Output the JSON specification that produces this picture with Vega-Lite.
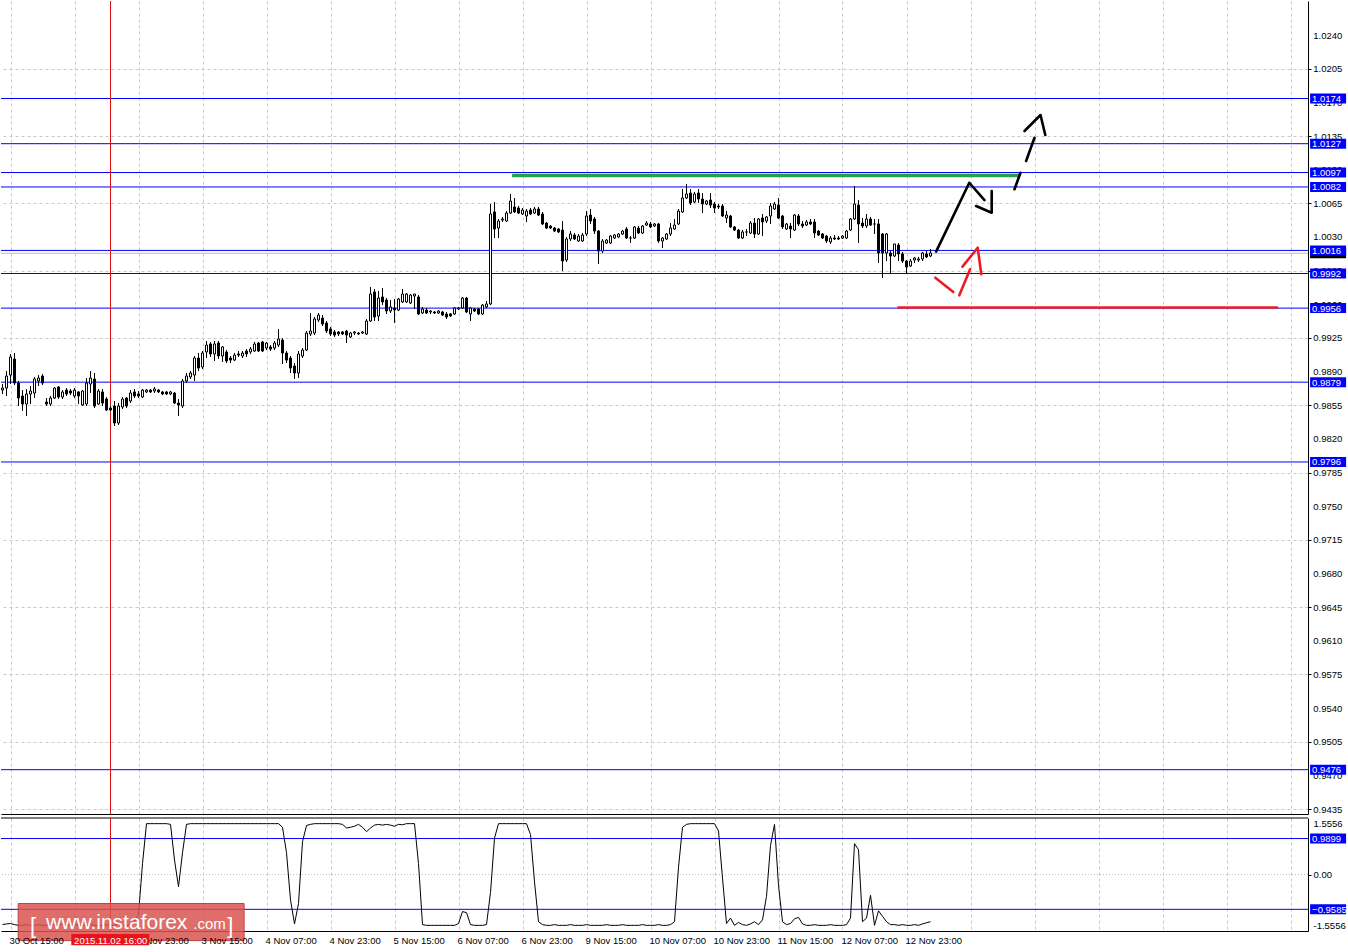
{
"$schema":"https://vega.github.io/schema/vega-lite/v6.json",
"padding":0,
"background":"#ffffff",
"spacing":2,
"config":{
 "view":{"stroke":null},
 "font":"Liberation Sans",
 "scale":{"continuousPadding":0},
 "axis":{"labelFont":"Liberation Sans","labelFontSize":9.5,"labelColor":"#000000","domainColor":"#000000","domainWidth":1,"tickColor":"#000000","tickWidth":1,"gridColor":"#c8c8c8","gridDash":[3,3],"gridWidth":1,"labelOverlap":false,"labelFlush":false,"labelBound":false}
},
"datasets":{
 "c":[
{"k":0,"o":0.98708,"h":0.98771,"l":0.98667,"c":0.98729},
{"k":1,"o":0.98729,"h":0.98906,"l":0.98646,"c":0.98854},
{"k":2,"o":0.98864,"h":0.99083,"l":0.98771,"c":0.99052},
{"k":3,"o":0.99031,"h":0.99093,"l":0.98760,"c":0.98781},
{"k":4,"o":0.98781,"h":0.98802,"l":0.98542,"c":0.98625},
{"k":5,"o":0.98646,"h":0.98708,"l":0.98490,"c":0.98563},
{"k":6,"o":0.98563,"h":0.98719,"l":0.98438,"c":0.98667},
{"k":7,"o":0.98667,"h":0.98750,"l":0.98563,"c":0.98698},
{"k":8,"o":0.98677,"h":0.98844,"l":0.98625,"c":0.98823},
{"k":9,"o":0.98802,"h":0.98864,"l":0.98750,"c":0.98833},
{"k":10,"o":0.98854,"h":0.98875,"l":0.98760,"c":0.98781},
{"k":11,"o":0.98584,"h":0.98625,"l":0.98542,"c":0.98563},
{"k":12,"o":0.98563,"h":0.98646,"l":0.98542,"c":0.98625},
{"k":13,"o":0.98625,"h":0.98740,"l":0.98615,"c":0.98729},
{"k":14,"o":0.98740,"h":0.98750,"l":0.98615,"c":0.98636},
{"k":15,"o":0.98636,"h":0.98708,"l":0.98615,"c":0.98688},
{"k":16,"o":0.98708,"h":0.98729,"l":0.98646,"c":0.98667},
{"k":17,"o":0.98698,"h":0.98719,"l":0.98656,"c":0.98677},
{"k":18,"o":0.98646,"h":0.98729,"l":0.98625,"c":0.98708},
{"k":19,"o":0.98688,"h":0.98698,"l":0.98563,"c":0.98646},
{"k":20,"o":0.98552,"h":0.98708,"l":0.98542,"c":0.98698},
{"k":21,"o":0.98563,"h":0.98833,"l":0.98542,"c":0.98781},
{"k":22,"o":0.98771,"h":0.98906,"l":0.98677,"c":0.98833},
{"k":23,"o":0.98823,"h":0.98885,"l":0.98521,"c":0.98542},
{"k":24,"o":0.98563,"h":0.98719,"l":0.98552,"c":0.98698},
{"k":25,"o":0.98688,"h":0.98719,"l":0.98542,"c":0.98573},
{"k":26,"o":0.98615,"h":0.98636,"l":0.98490,"c":0.98500},
{"k":27,"o":0.98521,"h":0.98542,"l":0.98490,"c":0.98500},
{"k":28,"o":0.98542,"h":0.98594,"l":0.98334,"c":0.98365},
{"k":29,"o":0.98365,"h":0.98573,"l":0.98344,"c":0.98542},
{"k":30,"o":0.98532,"h":0.98636,"l":0.98511,"c":0.98615},
{"k":31,"o":0.98625,"h":0.98636,"l":0.98521,"c":0.98542},
{"k":32,"o":0.98594,"h":0.98708,"l":0.98573,"c":0.98677},
{"k":33,"o":0.98688,"h":0.98719,"l":0.98625,"c":0.98646},
{"k":34,"o":0.98667,"h":0.98698,"l":0.98625,"c":0.98646},
{"k":35,"o":0.98636,"h":0.98719,"l":0.98625,"c":0.98708},
{"k":36,"o":0.98688,"h":0.98719,"l":0.98677,"c":0.98708},
{"k":37,"o":0.98708,"h":0.98719,"l":0.98677,"c":0.98688},
{"k":38,"o":0.98698,"h":0.98740,"l":0.98677,"c":0.98719},
{"k":39,"o":0.98708,"h":0.98719,"l":0.98677,"c":0.98688},
{"k":40,"o":0.98688,"h":0.98698,"l":0.98656,"c":0.98667},
{"k":41,"o":0.98688,"h":0.98698,"l":0.98656,"c":0.98667},
{"k":42,"o":0.98667,"h":0.98698,"l":0.98656,"c":0.98688},
{"k":43,"o":0.98677,"h":0.98688,"l":0.98563,"c":0.98573},
{"k":44,"o":0.98573,"h":0.98615,"l":0.98438,"c":0.98552},
{"k":45,"o":0.98542,"h":0.98823,"l":0.98521,"c":0.98802},
{"k":46,"o":0.98802,"h":0.98885,"l":0.98781,"c":0.98854},
{"k":47,"o":0.98844,"h":0.98906,"l":0.98823,"c":0.98885},
{"k":48,"o":0.98864,"h":0.99062,"l":0.98802,"c":0.99041},
{"k":49,"o":0.99041,"h":0.99093,"l":0.98906,"c":0.98937},
{"k":50,"o":0.98948,"h":0.99114,"l":0.98927,"c":0.99093},
{"k":51,"o":0.99104,"h":0.99218,"l":0.99041,"c":0.99176},
{"k":52,"o":0.99187,"h":0.99208,"l":0.99052,"c":0.99083},
{"k":53,"o":0.99083,"h":0.99218,"l":0.99010,"c":0.99187},
{"k":54,"o":0.99197,"h":0.99218,"l":0.99031,"c":0.99062},
{"k":55,"o":0.99062,"h":0.99166,"l":0.99000,"c":0.99156},
{"k":56,"o":0.99104,"h":0.99124,"l":0.98989,"c":0.99010},
{"k":57,"o":0.99041,"h":0.99062,"l":0.98989,"c":0.99020},
{"k":58,"o":0.99020,"h":0.99093,"l":0.99010,"c":0.99072},
{"k":59,"o":0.99083,"h":0.99114,"l":0.99052,"c":0.99072},
{"k":60,"o":0.99062,"h":0.99114,"l":0.99041,"c":0.99093},
{"k":61,"o":0.99114,"h":0.99135,"l":0.99052,"c":0.99083},
{"k":62,"o":0.99104,"h":0.99156,"l":0.99083,"c":0.99135},
{"k":63,"o":0.99114,"h":0.99208,"l":0.99104,"c":0.99187},
{"k":64,"o":0.99197,"h":0.99208,"l":0.99104,"c":0.99114},
{"k":65,"o":0.99208,"h":0.99218,"l":0.99104,"c":0.99114},
{"k":66,"o":0.99145,"h":0.99208,"l":0.99124,"c":0.99197},
{"k":67,"o":0.99156,"h":0.99176,"l":0.99114,"c":0.99135},
{"k":68,"o":0.99145,"h":0.99218,"l":0.99124,"c":0.99197},
{"k":69,"o":0.99176,"h":0.99343,"l":0.99156,"c":0.99239},
{"k":70,"o":0.99228,"h":0.99249,"l":0.98979,"c":0.99093},
{"k":71,"o":0.99093,"h":0.99114,"l":0.98989,"c":0.99020},
{"k":72,"o":0.99041,"h":0.99062,"l":0.98885,"c":0.98937},
{"k":73,"o":0.98958,"h":0.98989,"l":0.98823,"c":0.98885},
{"k":74,"o":0.98885,"h":0.99114,"l":0.98833,"c":0.99083},
{"k":75,"o":0.99062,"h":0.99145,"l":0.99041,"c":0.99124},
{"k":76,"o":0.99124,"h":0.99322,"l":0.99114,"c":0.99301},
{"k":77,"o":0.99291,"h":0.99509,"l":0.99270,"c":0.99322},
{"k":78,"o":0.99301,"h":0.99468,"l":0.99280,"c":0.99447},
{"k":79,"o":0.99436,"h":0.99509,"l":0.99416,"c":0.99488},
{"k":80,"o":0.99457,"h":0.99488,"l":0.99374,"c":0.99395},
{"k":81,"o":0.99405,"h":0.99426,"l":0.99301,"c":0.99322},
{"k":82,"o":0.99343,"h":0.99364,"l":0.99270,"c":0.99291},
{"k":83,"o":0.99312,"h":0.99332,"l":0.99260,"c":0.99280},
{"k":84,"o":0.99312,"h":0.99322,"l":0.99270,"c":0.99291},
{"k":85,"o":0.99312,"h":0.99322,"l":0.99280,"c":0.99291},
{"k":86,"o":0.99322,"h":0.99332,"l":0.99197,"c":0.99280},
{"k":87,"o":0.99260,"h":0.99312,"l":0.99249,"c":0.99301},
{"k":88,"o":0.99301,"h":0.99322,"l":0.99280,"c":0.99312},
{"k":89,"o":0.99301,"h":0.99312,"l":0.99280,"c":0.99291},
{"k":90,"o":0.99301,"h":0.99322,"l":0.99291,"c":0.99312},
{"k":91,"o":0.99291,"h":0.99447,"l":0.99280,"c":0.99426},
{"k":92,"o":0.99426,"h":0.99780,"l":0.99416,"c":0.99707},
{"k":93,"o":0.99728,"h":0.99759,"l":0.99426,"c":0.99468},
{"k":94,"o":0.99478,"h":0.99738,"l":0.99426,"c":0.99665},
{"k":95,"o":0.99676,"h":0.99769,"l":0.99592,"c":0.99624},
{"k":96,"o":0.99644,"h":0.99665,"l":0.99499,"c":0.99530},
{"k":97,"o":0.99530,"h":0.99644,"l":0.99509,"c":0.99572},
{"k":98,"o":0.99561,"h":0.99655,"l":0.99405,"c":0.99540},
{"k":99,"o":0.99540,"h":0.99665,"l":0.99530,"c":0.99655},
{"k":100,"o":0.99624,"h":0.99759,"l":0.99613,"c":0.99707},
{"k":101,"o":0.99624,"h":0.99717,"l":0.99613,"c":0.99707},
{"k":102,"o":0.99613,"h":0.99707,"l":0.99603,"c":0.99696},
{"k":103,"o":0.99686,"h":0.99707,"l":0.99551,"c":0.99707},
{"k":104,"o":0.99676,"h":0.99696,"l":0.99488,"c":0.99499},
{"k":105,"o":0.99509,"h":0.99572,"l":0.99499,"c":0.99551},
{"k":106,"o":0.99540,"h":0.99561,"l":0.99499,"c":0.99509},
{"k":107,"o":0.99520,"h":0.99540,"l":0.99499,"c":0.99530},
{"k":108,"o":0.99520,"h":0.99530,"l":0.99499,"c":0.99509},
{"k":109,"o":0.99509,"h":0.99540,"l":0.99499,"c":0.99530},
{"k":110,"o":0.99520,"h":0.99530,"l":0.99478,"c":0.99488},
{"k":111,"o":0.99499,"h":0.99520,"l":0.99447,"c":0.99468},
{"k":112,"o":0.99499,"h":0.99509,"l":0.99468,"c":0.99478},
{"k":113,"o":0.99499,"h":0.99572,"l":0.99488,"c":0.99561},
{"k":114,"o":0.99551,"h":0.99572,"l":0.99540,"c":0.99561},
{"k":115,"o":0.99561,"h":0.99676,"l":0.99551,"c":0.99665},
{"k":116,"o":0.99665,"h":0.99676,"l":0.99509,"c":0.99520},
{"k":117,"o":0.99499,"h":0.99572,"l":0.99426,"c":0.99561},
{"k":118,"o":0.99551,"h":0.99561,"l":0.99520,"c":0.99530},
{"k":119,"o":0.99551,"h":0.99561,"l":0.99488,"c":0.99499},
{"k":120,"o":0.99499,"h":0.99603,"l":0.99488,"c":0.99592},
{"k":121,"o":0.99572,"h":0.99634,"l":0.99561,"c":0.99603},
{"k":122,"o":0.99603,"h":1.00643,"l":0.99592,"c":1.00539},
{"k":123,"o":1.00560,"h":1.00664,"l":1.00289,"c":1.00383},
{"k":124,"o":1.00393,"h":1.00487,"l":1.00289,"c":1.00466},
{"k":125,"o":1.00476,"h":1.00508,"l":1.00456,"c":1.00487},
{"k":126,"o":1.00466,"h":1.00570,"l":1.00456,"c":1.00549},
{"k":127,"o":1.00549,"h":1.00747,"l":1.00539,"c":1.00674},
{"k":128,"o":1.00612,"h":1.00705,"l":1.00549,"c":1.00560},
{"k":129,"o":1.00601,"h":1.00622,"l":1.00539,"c":1.00549},
{"k":130,"o":1.00539,"h":1.00601,"l":1.00528,"c":1.00580},
{"k":131,"o":1.00518,"h":1.00591,"l":1.00456,"c":1.00570},
{"k":132,"o":1.00580,"h":1.00601,"l":1.00528,"c":1.00539},
{"k":133,"o":1.00549,"h":1.00612,"l":1.00539,"c":1.00591},
{"k":134,"o":1.00591,"h":1.00612,"l":1.00518,"c":1.00528},
{"k":135,"o":1.00539,"h":1.00560,"l":1.00424,"c":1.00435},
{"k":136,"o":1.00445,"h":1.00456,"l":1.00383,"c":1.00393},
{"k":137,"o":1.00414,"h":1.00424,"l":1.00383,"c":1.00393},
{"k":138,"o":1.00393,"h":1.00404,"l":1.00352,"c":1.00362},
{"k":139,"o":1.00383,"h":1.00393,"l":1.00341,"c":1.00352},
{"k":140,"o":1.00372,"h":1.00466,"l":0.99946,"c":1.00050},
{"k":141,"o":1.00060,"h":1.00300,"l":1.00040,"c":1.00279},
{"k":142,"o":1.00279,"h":1.00362,"l":1.00258,"c":1.00331},
{"k":143,"o":1.00320,"h":1.00341,"l":1.00268,"c":1.00279},
{"k":144,"o":1.00258,"h":1.00331,"l":1.00248,"c":1.00310},
{"k":145,"o":1.00258,"h":1.00341,"l":1.00248,"c":1.00320},
{"k":146,"o":1.00331,"h":1.00570,"l":1.00310,"c":1.00518},
{"k":147,"o":1.00528,"h":1.00591,"l":1.00435,"c":1.00466},
{"k":148,"o":1.00487,"h":1.00508,"l":1.00331,"c":1.00362},
{"k":149,"o":1.00362,"h":1.00372,"l":1.00019,"c":1.00154},
{"k":150,"o":1.00154,"h":1.00279,"l":1.00133,"c":1.00258},
{"k":151,"o":1.00237,"h":1.00279,"l":1.00227,"c":1.00268},
{"k":152,"o":1.00237,"h":1.00320,"l":1.00227,"c":1.00310},
{"k":153,"o":1.00289,"h":1.00331,"l":1.00279,"c":1.00320},
{"k":154,"o":1.00300,"h":1.00341,"l":1.00289,"c":1.00331},
{"k":155,"o":1.00331,"h":1.00372,"l":1.00320,"c":1.00362},
{"k":156,"o":1.00383,"h":1.00404,"l":1.00279,"c":1.00289},
{"k":157,"o":1.00289,"h":1.00310,"l":1.00237,"c":1.00289},
{"k":158,"o":1.00289,"h":1.00414,"l":1.00279,"c":1.00404},
{"k":159,"o":1.00393,"h":1.00414,"l":1.00331,"c":1.00341},
{"k":160,"o":1.00341,"h":1.00424,"l":1.00331,"c":1.00414},
{"k":161,"o":1.00424,"h":1.00466,"l":1.00414,"c":1.00445},
{"k":162,"o":1.00435,"h":1.00456,"l":1.00393,"c":1.00404},
{"k":163,"o":1.00414,"h":1.00445,"l":1.00404,"c":1.00435},
{"k":164,"o":1.00435,"h":1.00445,"l":1.00237,"c":1.00258},
{"k":165,"o":1.00258,"h":1.00300,"l":1.00185,"c":1.00289},
{"k":166,"o":1.00279,"h":1.00341,"l":1.00268,"c":1.00331},
{"k":167,"o":1.00331,"h":1.00445,"l":1.00310,"c":1.00393},
{"k":168,"o":1.00383,"h":1.00487,"l":1.00372,"c":1.00424},
{"k":169,"o":1.00435,"h":1.00591,"l":1.00424,"c":1.00570},
{"k":170,"o":1.00560,"h":1.00799,"l":1.00549,"c":1.00705},
{"k":171,"o":1.00705,"h":1.00851,"l":1.00695,"c":1.00747},
{"k":172,"o":1.00757,"h":1.00799,"l":1.00632,"c":1.00653},
{"k":173,"o":1.00664,"h":1.00768,"l":1.00653,"c":1.00747},
{"k":174,"o":1.00757,"h":1.00799,"l":1.00653,"c":1.00695},
{"k":175,"o":1.00695,"h":1.00757,"l":1.00549,"c":1.00643},
{"k":176,"o":1.00643,"h":1.00684,"l":1.00632,"c":1.00674},
{"k":177,"o":1.00684,"h":1.00757,"l":1.00601,"c":1.00632},
{"k":178,"o":1.00643,"h":1.00664,"l":1.00549,"c":1.00601},
{"k":179,"o":1.00622,"h":1.00643,"l":1.00591,"c":1.00612},
{"k":180,"o":1.00622,"h":1.00643,"l":1.00508,"c":1.00518},
{"k":181,"o":1.00497,"h":1.00570,"l":1.00445,"c":1.00528},
{"k":182,"o":1.00518,"h":1.00528,"l":1.00393,"c":1.00404},
{"k":183,"o":1.00404,"h":1.00414,"l":1.00362,"c":1.00372},
{"k":184,"o":1.00372,"h":1.00383,"l":1.00279,"c":1.00289},
{"k":185,"o":1.00289,"h":1.00372,"l":1.00279,"c":1.00352},
{"k":186,"o":1.00352,"h":1.00383,"l":1.00310,"c":1.00352},
{"k":187,"o":1.00341,"h":1.00466,"l":1.00331,"c":1.00445},
{"k":188,"o":1.00445,"h":1.00497,"l":1.00289,"c":1.00331},
{"k":189,"o":1.00331,"h":1.00497,"l":1.00320,"c":1.00487},
{"k":190,"o":1.00497,"h":1.00539,"l":1.00310,"c":1.00456},
{"k":191,"o":1.00466,"h":1.00518,"l":1.00445,"c":1.00508},
{"k":192,"o":1.00518,"h":1.00653,"l":1.00435,"c":1.00622},
{"k":193,"o":1.00591,"h":1.00664,"l":1.00580,"c":1.00643},
{"k":194,"o":1.00632,"h":1.00705,"l":1.00487,"c":1.00497},
{"k":195,"o":1.00518,"h":1.00528,"l":1.00383,"c":1.00404},
{"k":196,"o":1.00383,"h":1.00445,"l":1.00372,"c":1.00435},
{"k":197,"o":1.00414,"h":1.00445,"l":1.00289,"c":1.00383},
{"k":198,"o":1.00372,"h":1.00539,"l":1.00362,"c":1.00528},
{"k":199,"o":1.00518,"h":1.00539,"l":1.00414,"c":1.00435},
{"k":200,"o":1.00435,"h":1.00466,"l":1.00393,"c":1.00414},
{"k":201,"o":1.00424,"h":1.00476,"l":1.00414,"c":1.00456},
{"k":202,"o":1.00456,"h":1.00487,"l":1.00424,"c":1.00435},
{"k":203,"o":1.00456,"h":1.00487,"l":1.00289,"c":1.00341},
{"k":204,"o":1.00362,"h":1.00372,"l":1.00310,"c":1.00320},
{"k":205,"o":1.00331,"h":1.00341,"l":1.00279,"c":1.00289},
{"k":206,"o":1.00310,"h":1.00320,"l":1.00237,"c":1.00258},
{"k":207,"o":1.00248,"h":1.00310,"l":1.00227,"c":1.00289},
{"k":208,"o":1.00289,"h":1.00320,"l":1.00268,"c":1.00279},
{"k":209,"o":1.00289,"h":1.00310,"l":1.00268,"c":1.00279},
{"k":210,"o":1.00289,"h":1.00320,"l":1.00279,"c":1.00310},
{"k":211,"o":1.00289,"h":1.00372,"l":1.00279,"c":1.00362},
{"k":212,"o":1.00372,"h":1.00497,"l":1.00362,"c":1.00487},
{"k":213,"o":1.00487,"h":1.00830,"l":1.00476,"c":1.00643},
{"k":214,"o":1.00632,"h":1.00684,"l":1.00237,"c":1.00435},
{"k":215,"o":1.00445,"h":1.00497,"l":1.00393,"c":1.00414},
{"k":216,"o":1.00414,"h":1.00539,"l":1.00393,"c":1.00487},
{"k":217,"o":1.00487,"h":1.00508,"l":1.00414,"c":1.00424},
{"k":218,"o":1.00435,"h":1.00487,"l":1.00331,"c":1.00435},
{"k":219,"o":1.00435,"h":1.00487,"l":1.00029,"c":1.00133},
{"k":220,"o":1.00331,"h":1.00341,"l":0.99873,"c":1.00133},
{"k":221,"o":1.00133,"h":1.00341,"l":1.00050,"c":1.00331},
{"k":222,"o":1.00133,"h":1.00154,"l":0.99915,"c":1.00102},
{"k":223,"o":1.00102,"h":1.00227,"l":1.00092,"c":1.00227},
{"k":224,"o":1.00216,"h":1.00237,"l":1.00050,"c":1.00123},
{"k":225,"o":1.00123,"h":1.00144,"l":1.00029,"c":1.00050},
{"k":226,"o":1.00050,"h":1.00060,"l":0.99915,"c":0.99988},
{"k":227,"o":0.99998,"h":1.00071,"l":0.99988,"c":1.00050},
{"k":228,"o":1.00060,"h":1.00092,"l":1.00029,"c":1.00081},
{"k":229,"o":1.00060,"h":1.00092,"l":1.00040,"c":1.00071},
{"k":230,"o":1.00071,"h":1.00144,"l":1.00050,"c":1.00133},
{"k":231,"o":1.00123,"h":1.00154,"l":1.00081,"c":1.00092},
{"k":232,"o":1.00102,"h":1.00175,"l":1.00092,"c":1.00133}
 ],
 "ind":[
{"k":0,"v":-1.38},{"k":1,"v":-1.36},{"k":2,"v":-1.35},{"k":3,"v":-1.38},{"k":4,"v":-1.4},{"k":5,"v":-1.4},{"k":6,"v":-1.38},{"k":7,"v":-1.4},{"k":8,"v":-1.4},{"k":9,"v":-1.38},
{"k":10,"v":-1.4},{"k":11,"v":-1.4},{"k":12,"v":-1.38},{"k":13,"v":-1.4},{"k":14,"v":-1.4},{"k":15,"v":-1.36},{"k":16,"v":-1.4},{"k":17,"v":-1.4},{"k":18,"v":-1.38},{"k":19,"v":-1.4},
{"k":20,"v":-1.4},{"k":21,"v":-1.4},{"k":22,"v":-1.38},{"k":23,"v":-1.4},{"k":24,"v":-1.4},{"k":25,"v":-1.4},{"k":26,"v":-1.38},{"k":27,"v":-1.4},{"k":28,"v":-1.4},{"k":29,"v":-1.36},
{"k":30,"v":-1.4},{"k":31,"v":-1.4},{"k":32,"v":-1.38},{"k":33,"v":-1.3},{"k":34,"v":-1.1},{"k":35,"v":0.3},{"k":36,"v":1.4},{"k":37,"v":1.4},{"k":38,"v":1.4},{"k":39,"v":1.4},
{"k":40,"v":1.4},{"k":41,"v":1.4},{"k":42,"v":1.38},{"k":43,"v":0.4},{"k":44,"v":-0.34},{"k":45,"v":0.6},{"k":46,"v":1.38},{"k":47,"v":1.4},{"k":48,"v":1.4},{"k":49,"v":1.4},
{"k":50,"v":1.4},{"k":51,"v":1.4},{"k":52,"v":1.4},{"k":53,"v":1.4},{"k":54,"v":1.4},{"k":55,"v":1.4},{"k":56,"v":1.4},{"k":57,"v":1.4},{"k":58,"v":1.4},{"k":59,"v":1.4},
{"k":60,"v":1.4},{"k":61,"v":1.4},{"k":62,"v":1.4},{"k":63,"v":1.4},{"k":64,"v":1.4},{"k":65,"v":1.4},{"k":66,"v":1.4},{"k":67,"v":1.4},{"k":68,"v":1.4},{"k":69,"v":1.4},
{"k":70,"v":1.3},{"k":71,"v":0.6},{"k":72,"v":-0.7},{"k":73,"v":-1.36},{"k":74,"v":-0.8},{"k":75,"v":0.9},{"k":76,"v":1.35},{"k":77,"v":1.38},{"k":78,"v":1.4},{"k":79,"v":1.4},
{"k":80,"v":1.4},{"k":81,"v":1.4},{"k":82,"v":1.4},{"k":83,"v":1.4},{"k":84,"v":1.4},{"k":85,"v":1.38},{"k":86,"v":1.28},{"k":87,"v":1.3},{"k":88,"v":1.33},{"k":89,"v":1.38},
{"k":90,"v":1.3},{"k":91,"v":1.18},{"k":92,"v":1.28},{"k":93,"v":1.36},{"k":94,"v":1.38},{"k":95,"v":1.36},{"k":96,"v":1.38},{"k":97,"v":1.36},{"k":98,"v":1.33},{"k":99,"v":1.38},
{"k":100,"v":1.37},{"k":101,"v":1.4},{"k":102,"v":1.4},{"k":103,"v":1.4},{"k":104,"v":0.3},{"k":105,"v":-1.38},{"k":106,"v":-1.4},{"k":107,"v":-1.4},{"k":108,"v":-1.4},{"k":109,"v":-1.4},
{"k":110,"v":-1.4},{"k":111,"v":-1.4},{"k":112,"v":-1.4},{"k":113,"v":-1.4},{"k":114,"v":-1.35},{"k":115,"v":-1.02},{"k":116,"v":-1.05},{"k":117,"v":-1.38},{"k":118,"v":-1.4},{"k":119,"v":-1.4},
{"k":120,"v":-1.4},{"k":121,"v":-1.38},{"k":122,"v":-0.5},{"k":123,"v":1.0},{"k":124,"v":1.4},{"k":125,"v":1.4},{"k":126,"v":1.4},{"k":127,"v":1.4},{"k":128,"v":1.4},{"k":129,"v":1.4},
{"k":130,"v":1.4},{"k":131,"v":1.4},{"k":132,"v":1.1},{"k":133,"v":-0.2},{"k":134,"v":-1.3},{"k":135,"v":-1.38},{"k":136,"v":-1.4},{"k":137,"v":-1.4},{"k":138,"v":-1.38},{"k":139,"v":-1.4},
{"k":140,"v":-1.4},{"k":141,"v":-1.4},{"k":142,"v":-1.38},{"k":143,"v":-1.4},{"k":144,"v":-1.4},{"k":145,"v":-1.4},{"k":146,"v":-1.38},{"k":147,"v":-1.4},{"k":148,"v":-1.4},{"k":149,"v":-1.4},
{"k":150,"v":-1.4},{"k":151,"v":-1.38},{"k":152,"v":-1.4},{"k":153,"v":-1.4},{"k":154,"v":-1.4},{"k":155,"v":-1.38},{"k":156,"v":-1.4},{"k":157,"v":-1.4},{"k":158,"v":-1.4},{"k":159,"v":-1.4},
{"k":160,"v":-1.38},{"k":161,"v":-1.4},{"k":162,"v":-1.4},{"k":163,"v":-1.4},{"k":164,"v":-1.38},{"k":165,"v":-1.4},{"k":166,"v":-1.4},{"k":167,"v":-1.38},{"k":168,"v":-1.3},{"k":169,"v":0.2},
{"k":170,"v":1.3},{"k":171,"v":1.38},{"k":172,"v":1.4},{"k":173,"v":1.4},{"k":174,"v":1.4},{"k":175,"v":1.4},{"k":176,"v":1.4},{"k":177,"v":1.4},{"k":178,"v":1.4},{"k":179,"v":1.2},
{"k":180,"v":-0.1},{"k":181,"v":-1.35},{"k":182,"v":-1.2},{"k":183,"v":-1.4},{"k":184,"v":-1.32},{"k":185,"v":-1.38},{"k":186,"v":-1.4},{"k":187,"v":-1.36},{"k":188,"v":-1.3},{"k":189,"v":-1.38},
{"k":190,"v":-1.25},{"k":191,"v":-0.6},{"k":192,"v":0.8},{"k":193,"v":1.38},{"k":194,"v":-0.3},{"k":195,"v":-1.3},{"k":196,"v":-1.38},{"k":197,"v":-1.35},{"k":198,"v":-1.22},{"k":199,"v":-1.18},
{"k":200,"v":-1.36},{"k":201,"v":-1.4},{"k":202,"v":-1.4},{"k":203,"v":-1.38},{"k":204,"v":-1.4},{"k":205,"v":-1.4},{"k":206,"v":-1.4},{"k":207,"v":-1.38},{"k":208,"v":-1.4},{"k":209,"v":-1.4},
{"k":210,"v":-1.4},{"k":211,"v":-1.38},{"k":212,"v":-1.2},{"k":213,"v":0.85},{"k":214,"v":0.68},{"k":215,"v":-1.3},{"k":216,"v":-1.2},{"k":217,"v":-0.57},{"k":218,"v":-1.4},{"k":219,"v":-1.0},
{"k":220,"v":-1.15},{"k":221,"v":-1.3},{"k":222,"v":-1.38},{"k":223,"v":-1.38},{"k":224,"v":-1.4},{"k":225,"v":-1.38},{"k":226,"v":-1.4},{"k":227,"v":-1.4},{"k":228,"v":-1.38},{"k":229,"v":-1.4},
{"k":230,"v":-1.36},{"k":231,"v":-1.33},{"k":232,"v":-1.3}
 ],
 "yt":[{"t":0.9435},{"t":0.947},{"t":0.9505},{"t":0.954},{"t":0.9575},{"t":0.961},{"t":0.9645},{"t":0.968},{"t":0.9715},{"t":0.975},{"t":0.9785},{"t":0.982},{"t":0.9855},{"t":0.989},{"t":0.9925},{"t":0.996},{"t":0.9995},{"t":1.003},{"t":1.0065},{"t":1.01},{"t":1.0135},{"t":1.017},{"t":1.0205},{"t":1.024}],
 "xt":[{"k":2,"t":"30 Oct 15:00"},{"k":18,"t":"2 Nov 07:00"},{"k":34,"t":"2 Nov 23:00"},{"k":50,"t":"3 Nov 15:00"},{"k":66,"t":"4 Nov 07:00"},{"k":82,"t":"4 Nov 23:00"},{"k":98,"t":"5 Nov 15:00"},{"k":114,"t":"6 Nov 07:00"},{"k":130,"t":"6 Nov 23:00"},{"k":146,"t":"9 Nov 15:00"},{"k":162,"t":"10 Nov 07:00"},{"k":178,"t":"10 Nov 23:00"},{"k":194,"t":"11 Nov 15:00"},{"k":210,"t":"12 Nov 07:00"},{"k":226,"t":"12 Nov 23:00"}],
 "lv":[{"p":1.0174},{"p":1.0127},{"p":1.0097},{"p":1.0082},{"p":1.0016},{"p":0.9992},{"p":0.9956},{"p":0.9879},{"p":0.9796},{"p":0.9476}],
 "ilv":[{"v":0.9899},{"v":-0.9585}],
 "bid":[{"p":1.0013}],
 "cross":[{"k":27}],
 "green":[{"k1":127.4,"k2":254.4,"p":1.0094}],
 "redh":[{"k1":223.7,"k2":318.9,"p":0.99566}],
 "arrb":[
  {"s":"a","n":1,"k":233.4,"p":1.00147},{"s":"a","n":2,"k":241.7,"p":1.00864},{"s":"a","n":3,"k":245.5,"p":1.00684},
  {"s":"b","n":1,"k":243.4,"p":1.00622},{"s":"b","n":2,"k":247.3,"p":1.00552},{"s":"b","n":3,"k":247.3,"p":1.00778},
  {"s":"c","n":1,"k":253.0,"p":1.00796},{"s":"c","n":2,"k":254.5,"p":1.00968},
  {"s":"d","n":1,"k":255.9,"p":1.0109},{"s":"d","n":2,"k":258.0,"p":1.01332},
  {"s":"e","n":1,"k":255.5,"p":1.01402},{"s":"e","n":2,"k":259.5,"p":1.01568},{"s":"e","n":3,"k":260.7,"p":1.0136}
 ],
 "arrr":[
  {"s":"a","n":1,"k":233.2,"p":0.99876},{"s":"a","n":2,"k":237.7,"p":0.99728},
  {"s":"b","n":1,"k":239.2,"p":0.99693},{"s":"b","n":2,"k":241.9,"p":0.99964},
  {"s":"c","n":1,"k":240.0,"p":0.99991},{"s":"c","n":2,"k":243.8,"p":1.00188},{"s":"c","n":3,"k":244.7,"p":0.99912}
 ]
},
"vconcat":[
 {
  "width":1307,"height":813,
  "layer":[
   {"data":{"name":"lv"},"mark":{"type":"rule","color":"#0000ff","strokeWidth":1},
    "encoding":{"y":{"field":"p","type":"quantitative","scale":{"domain":[0.94299,1.02754],"nice":false,"zero":false,"padding":0},"title":null,
      "axis":{"orient":"right","title":null,"values":[0.9435,0.947,0.9505,0.954,0.9575,0.961,0.9645,0.968,0.9715,0.975,0.9785,0.982,0.9855,0.989,0.9925,0.996,0.9995,1.003,1.0065,1.01,1.0135,1.017,1.0205,1.024],"labels":false,"tickSize":3,"grid":true,"domain":true}}}},
   {"data":{"name":"bid"},"mark":{"type":"rule","color":"#c0c0c0","strokeWidth":1},
    "encoding":{"y":{"field":"p","type":"quantitative","scale":{"domain":[0.94299,1.02754],"nice":false,"zero":false,"padding":0},"title":null}}},
   {"data":{"name":"green"},"mark":{"type":"rule","color":"#22a34a","strokeWidth":3.5},
    "encoding":{"x":{"field":"k1","type":"quantitative","scale":{"domain":[-0.375,326.375],"nice":false,"zero":false,"padding":0},"title":null},"x2":{"field":"k2","title":null},
     "y":{"field":"p","type":"quantitative","scale":{"domain":[0.94299,1.02754],"nice":false,"zero":false,"padding":0},"title":null}}},
   {"data":{"name":"redh"},"mark":{"type":"rule","color":"#ee2020","strokeWidth":2.5},
    "encoding":{"x":{"field":"k1","type":"quantitative","scale":{"domain":[-0.375,326.375],"nice":false,"zero":false,"padding":0},"title":null},"x2":{"field":"k2","title":null},
     "y":{"field":"p","type":"quantitative","scale":{"domain":[0.94299,1.02754],"nice":false,"zero":false,"padding":0},"title":null}}},
   {"data":{"name":"cross"},"mark":{"type":"rule","color":"#e01010","strokeWidth":1},
    "encoding":{"x":{"field":"k","type":"quantitative","scale":{"domain":[-0.375,326.375],"nice":false,"zero":false,"padding":0},"title":null}}},
   {"data":{"name":"c"},"mark":{"type":"rule","color":"#000000","strokeWidth":1},
    "encoding":{"x":{"field":"k","type":"quantitative","scale":{"domain":[-0.375,326.375],"nice":false,"zero":false,"padding":0},"title":null,
      "axis":{"orient":"bottom","title":null,"values":[2,10,18,26,34,42,50,58,66,74,82,90,98,106,114,122,130,138,146,154,162,170,178,186,194,202,210,218,226,234,242,250,258,266,274,282,290,298,306,314,322],"labels":false,"ticks":false,"grid":true,"domain":true}},
     "y":{"field":"l","type":"quantitative","scale":{"domain":[0.94299,1.02754],"nice":false,"zero":false,"padding":0},"title":null},"y2":{"field":"h","title":null}}},
   {"data":{"name":"c"},"mark":{"type":"bar","width":2,"stroke":"#000000","strokeWidth":1,"orient":"vertical"},
    "encoding":{"x":{"field":"k","type":"quantitative","scale":{"domain":[-0.375,326.375],"nice":false,"zero":false,"padding":0},"title":null},
     "y":{"field":"o","type":"quantitative","scale":{"domain":[0.94299,1.02754],"nice":false,"zero":false,"padding":0},"title":null},"y2":{"field":"c","title":null},
     "fill":{"condition":{"test":"datum.c >= datum.o","value":"#ffffff"},"value":"#000000"}}},
   {"data":{"name":"arrb"},"mark":{"type":"line","color":"#000000","strokeWidth":2.6,"strokeCap":"round","strokeJoin":"round"},
    "encoding":{"x":{"field":"k","type":"quantitative","scale":{"domain":[-0.375,326.375],"nice":false,"zero":false,"padding":0},"title":null},
     "y":{"field":"p","type":"quantitative","scale":{"domain":[0.94299,1.02754],"nice":false,"zero":false,"padding":0},"title":null},
     "detail":{"field":"s"},"order":{"field":"n","type":"quantitative"}}},
   {"data":{"name":"arrr"},"mark":{"type":"line","color":"#ed1c24","strokeWidth":2.6,"strokeCap":"round","strokeJoin":"round"},
    "encoding":{"x":{"field":"k","type":"quantitative","scale":{"domain":[-0.375,326.375],"nice":false,"zero":false,"padding":0},"title":null},
     "y":{"field":"p","type":"quantitative","scale":{"domain":[0.94299,1.02754],"nice":false,"zero":false,"padding":0},"title":null},
     "detail":{"field":"s"},"order":{"field":"n","type":"quantitative"}}},
   {"data":{"name":"yt"},"mark":{"type":"text","align":"left","baseline":"middle","color":"#000000","font":"Liberation Sans","fontSize":9.5,"dy":0.5},
    "encoding":{"x":{"datum":327.7,"type":"quantitative","scale":{"domain":[-0.375,326.375],"nice":false,"zero":false,"padding":0},"title":null},
     "y":{"field":"t","type":"quantitative","scale":{"domain":[0.94299,1.02754],"nice":false,"zero":false,"padding":0},"title":null},
     "text":{"field":"t","type":"quantitative","format":".4f"}}},
   {"data":{"name":"bid"},"mark":{"type":"bar","height":10,"fill":"#000000","orient":"horizontal"},
    "encoding":{"x":{"datum":326.9,"type":"quantitative","scale":{"domain":[-0.375,326.375],"nice":false,"zero":false,"padding":0},"title":null},"x2":{"datum":335.9},
     "y":{"field":"p","type":"quantitative","scale":{"domain":[0.94299,1.02754],"nice":false,"zero":false,"padding":0},"title":null}}},
   {"data":{"name":"lv"},"mark":{"type":"bar","height":10,"fill":"#0000ff","orient":"horizontal"},
    "encoding":{"x":{"datum":326.9,"type":"quantitative","scale":{"domain":[-0.375,326.375],"nice":false,"zero":false,"padding":0},"title":null},"x2":{"datum":335.9},
     "y":{"field":"p","type":"quantitative","scale":{"domain":[0.94299,1.02754],"nice":false,"zero":false,"padding":0},"title":null}}},
   {"data":{"name":"lv"},"mark":{"type":"text","align":"left","baseline":"middle","color":"#ffffff","font":"Liberation Sans","fontSize":9.5,"dy":0.5},
    "encoding":{"x":{"datum":327.4,"type":"quantitative","scale":{"domain":[-0.375,326.375],"nice":false,"zero":false,"padding":0},"title":null},
     "y":{"field":"p","type":"quantitative","scale":{"domain":[0.94299,1.02754],"nice":false,"zero":false,"padding":0},"title":null},
     "text":{"field":"p","type":"quantitative","format":".4f"}}}
  ]
 },
 {
  "width":1307,"height":113,
  "layer":[
   {"data":{"values":[{}]},"mark":{"type":"rule","color":"#c0c0c0","strokeDash":[1,2]},
    "encoding":{"y":{"datum":0,"type":"quantitative","scale":{"domain":[-1.5556,1.5556],"nice":false,"zero":false,"padding":0},"title":null}}},
   {"data":{"values":[{}]},"mark":{"type":"rule","color":"#000000","strokeWidth":1},
    "encoding":{"y":{"datum":1.5556,"type":"quantitative","scale":{"domain":[-1.5556,1.5556],"nice":false,"zero":false,"padding":0},"title":null}}},
   {"data":{"name":"ilv"},"mark":{"type":"rule","color":"#0000ff","strokeWidth":1},
    "encoding":{"y":{"field":"v","type":"quantitative","scale":{"domain":[-1.5556,1.5556],"nice":false,"zero":false,"padding":0},"title":null}}},
   {"data":{"name":"cross"},"mark":{"type":"rule","color":"#e01010","strokeWidth":1},
    "encoding":{"x":{"field":"k","type":"quantitative","scale":{"domain":[-0.375,326.375],"nice":false,"zero":false,"padding":0},"title":null}}},
   {"data":{"name":"ind"},"mark":{"type":"line","color":"#000000","strokeWidth":1},
    "encoding":{"x":{"field":"k","type":"quantitative","scale":{"domain":[-0.375,326.375],"nice":false,"zero":false,"padding":0},"title":null,
      "axis":{"orient":"bottom","title":null,"values":[2,10,18,26,34,42,50,58,66,74,82,90,98,106,114,122,130,138,146,154,162,170,178,186,194,202,210,218,226,234,242,250,258,266,274,282,290,298,306,314,322],
       "labels":false,"ticks":false,"grid":true,"domain":true}},
     "y":{"field":"v","type":"quantitative","scale":{"domain":[-1.5556,1.5556],"nice":false,"zero":false,"padding":0},"title":null,
      "axis":{"orient":"right","title":null,"values":[1.4,0,-1.4],"labelExpr":"datum.value > 1 ? '1.5556' : (datum.value < -1 ? '-1.5556' : '0.00')","grid":false,"tickSize":3,"tickOpacity":{"condition":{"test":"datum.value == 0","value":1},"value":0},"labelPadding":2,"domain":true,"labelOverlap":false,"labelBound":false}}}},
   {"data":{"name":"ilv"},"mark":{"type":"bar","height":10,"fill":"#0000ff","orient":"horizontal"},
    "encoding":{"x":{"datum":326.9,"type":"quantitative","scale":{"domain":[-0.375,326.375],"nice":false,"zero":false,"padding":0},"title":null},"x2":{"datum":335.9},
     "y":{"field":"v","type":"quantitative","scale":{"domain":[-1.5556,1.5556],"nice":false,"zero":false,"padding":0},"title":null}}},
   {"data":{"name":"ilv"},"mark":{"type":"text","align":"left","baseline":"middle","color":"#ffffff","font":"Liberation Sans","fontSize":9.5,"dy":0.5},
    "encoding":{"x":{"datum":327.4,"type":"quantitative","scale":{"domain":[-0.375,326.375],"nice":false,"zero":false,"padding":0},"title":null},
     "y":{"field":"v","type":"quantitative","scale":{"domain":[-1.5556,1.5556],"nice":false,"zero":false,"padding":0},"title":null},
     "text":{"field":"v","type":"quantitative","format":".4f"}}},
   {"data":{"values":[{}]},"mark":{"type":"bar","fill":"#d9534f","fillOpacity":0.85,"stroke":"#c04040","strokeWidth":1},
    "encoding":{"x":{"datum":3.92,"type":"quantitative","scale":{"domain":[-0.375,326.375],"nice":false,"zero":false,"padding":0},"title":null},"x2":{"datum":60.4},
     "y":{"datum":-0.798,"type":"quantitative","scale":{"domain":[-1.5556,1.5556],"nice":false,"zero":false,"padding":0},"title":null},"y2":{"datum":-1.82}}},
   {"data":{"values":[{}]},"mark":{"type":"text","align":"left","baseline":"alphabetic","color":"#ffffff","font":"Liberation Sans","fontSize":22},
    "encoding":{"x":{"datum":6.9,"type":"quantitative","scale":{"domain":[-0.375,326.375],"nice":false,"zero":false,"padding":0},"title":null},
     "y":{"datum":-1.6,"type":"quantitative","scale":{"domain":[-1.5556,1.5556],"nice":false,"zero":false,"padding":0},"title":null},"text":{"value":"["}}},
   {"data":{"values":[{}]},"mark":{"type":"text","align":"left","baseline":"alphabetic","color":"#ffffff","font":"Liberation Sans","fontSize":21},
    "encoding":{"x":{"datum":10.9,"type":"quantitative","scale":{"domain":[-0.375,326.375],"nice":false,"zero":false,"padding":0},"title":null},
     "y":{"datum":-1.514,"type":"quantitative","scale":{"domain":[-1.5556,1.5556],"nice":false,"zero":false,"padding":0},"title":null},"text":{"value":"www.instaforex"}}},
   {"data":{"values":[{}]},"mark":{"type":"text","align":"left","baseline":"alphabetic","color":"#ffffff","font":"Liberation Sans","fontSize":15},
    "encoding":{"x":{"datum":47.7,"type":"quantitative","scale":{"domain":[-0.375,326.375],"nice":false,"zero":false,"padding":0},"title":null},
     "y":{"datum":-1.514,"type":"quantitative","scale":{"domain":[-1.5556,1.5556],"nice":false,"zero":false,"padding":0},"title":null},"text":{"value":".com"}}},
   {"data":{"values":[{}]},"mark":{"type":"text","align":"left","baseline":"alphabetic","color":"#ffffff","font":"Liberation Sans","fontSize":22},
    "encoding":{"x":{"datum":56.2,"type":"quantitative","scale":{"domain":[-0.375,326.375],"nice":false,"zero":false,"padding":0},"title":null},
     "y":{"datum":-1.6,"type":"quantitative","scale":{"domain":[-1.5556,1.5556],"nice":false,"zero":false,"padding":0},"title":null},"text":{"value":"]"}}},
   {"data":{"name":"xt"},"mark":{"type":"text","align":"left","baseline":"alphabetic","color":"#000000","font":"Liberation Sans","fontSize":9.5,"dx":-1},
    "encoding":{"x":{"field":"k","type":"quantitative","scale":{"domain":[-0.375,326.375],"nice":false,"zero":false,"padding":0},"title":null},
     "y":{"datum":-1.9,"type":"quantitative","scale":{"domain":[-1.5556,1.5556],"nice":false,"zero":false,"padding":0},"title":null},
     "text":{"field":"t"}}},
   {"data":{"values":[{}]},"mark":{"type":"bar","fill":"#e8141c"},
    "encoding":{"x":{"datum":17.2,"type":"quantitative","scale":{"domain":[-0.375,326.375],"nice":false,"zero":false,"padding":0},"title":null},"x2":{"datum":36.7},
     "y":{"datum":-1.64,"type":"quantitative","scale":{"domain":[-1.5556,1.5556],"nice":false,"zero":false,"padding":0},"title":null},"y2":{"datum":-1.95}}},
   {"data":{"values":[{}]},"mark":{"type":"text","align":"left","baseline":"alphabetic","color":"#ffffff","font":"Liberation Sans","fontSize":9.5},
    "encoding":{"x":{"datum":17.9,"type":"quantitative","scale":{"domain":[-0.375,326.375],"nice":false,"zero":false,"padding":0},"title":null},
     "y":{"datum":-1.9,"type":"quantitative","scale":{"domain":[-1.5556,1.5556],"nice":false,"zero":false,"padding":0},"title":null},"text":{"value":"2015.11.02 16:00"}}}
  ]
 }
]
}
